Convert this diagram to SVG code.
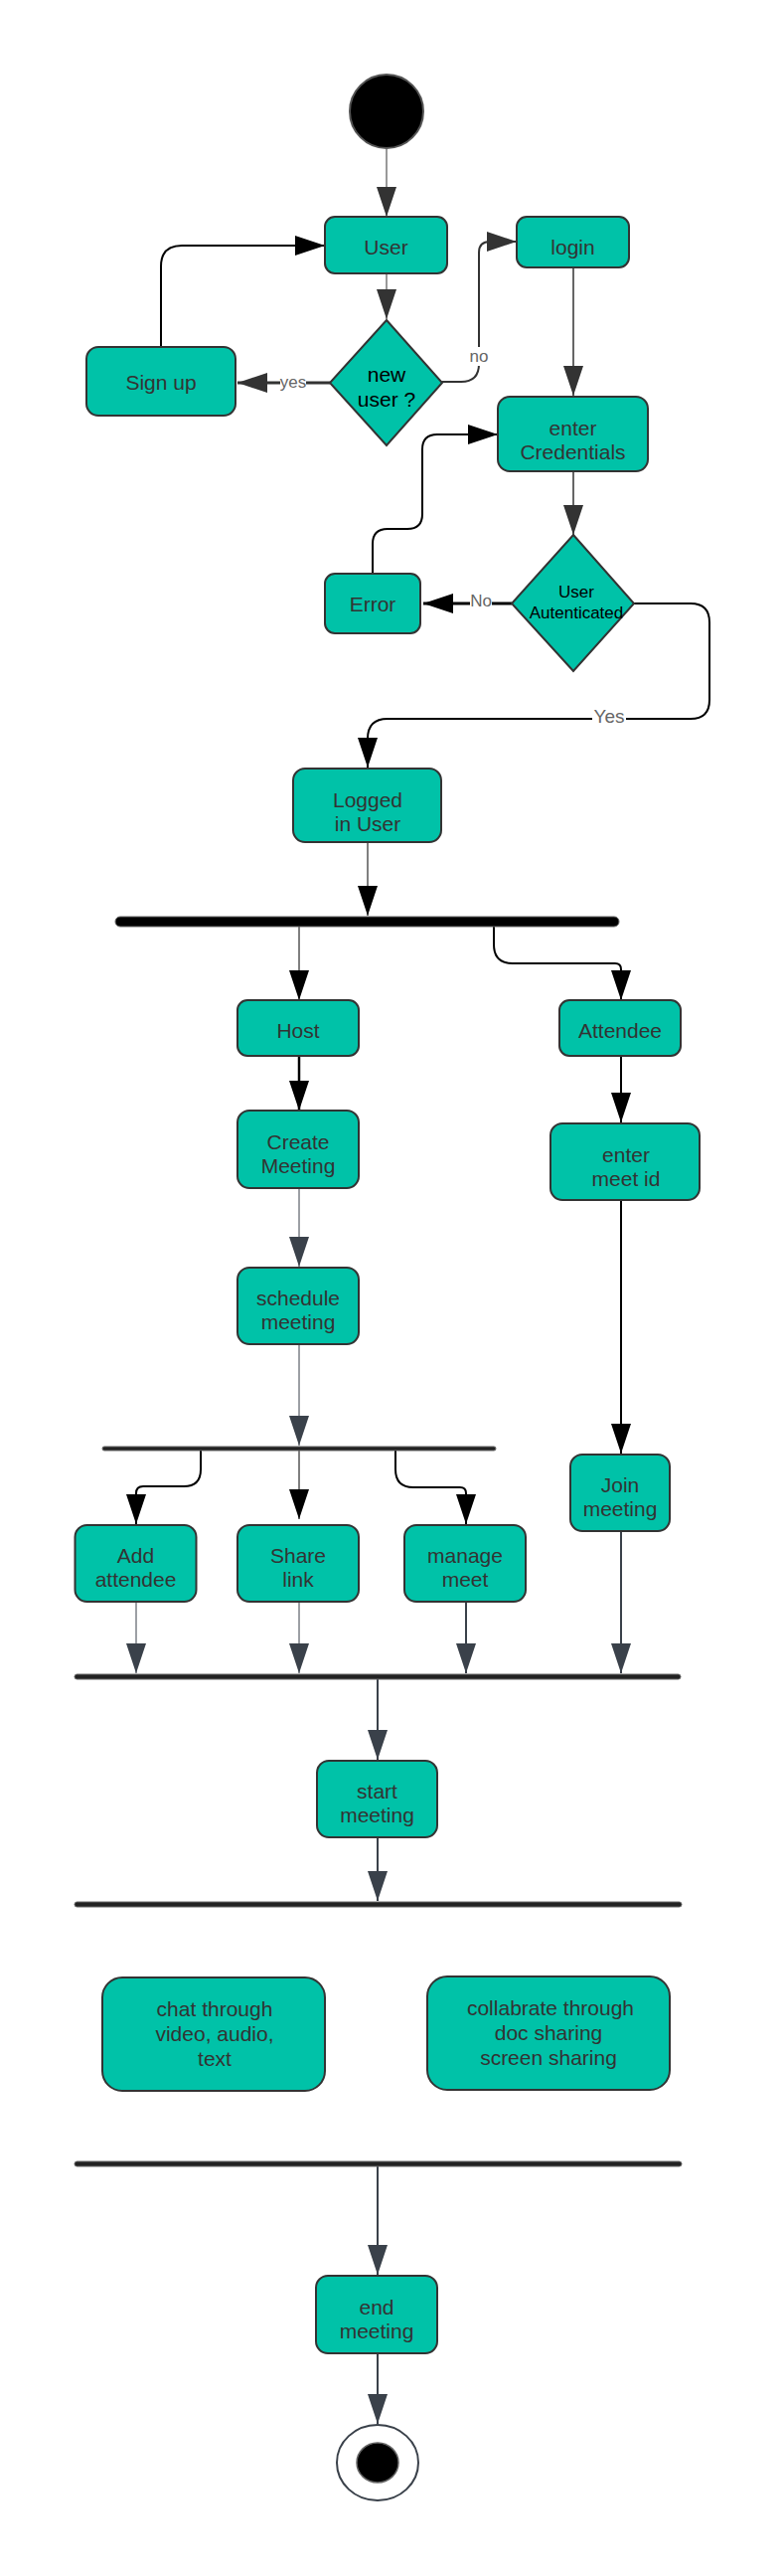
<svg xmlns="http://www.w3.org/2000/svg" width="789" height="2591" viewBox="0 0 789 2591">
<style>
.box{fill:#00C2A8;stroke:#333;stroke-width:2}
.t{font-family:"Liberation Sans",Arial,sans-serif;font-size:21px;fill:#333;text-anchor:middle}
.td{font-family:"Liberation Sans",Arial,sans-serif;fill:#000;text-anchor:middle}
.lbl{font-family:"Liberation Sans",Arial,sans-serif;font-size:17px;fill:#666;text-anchor:middle}
.bar{stroke:#666;stroke-width:1}
.c{fill:none}
.k{stroke:#000}
.g{stroke:#333}
.s{stroke:#3a414a}
</style>
<defs>
<marker id="ak" viewBox="0 0 30 20" refX="30" refY="10" markerWidth="30" markerHeight="20" markerUnits="userSpaceOnUse" orient="auto"><path d="M0,0 L30,10 L0,20 Z" fill="#000"/></marker>
<marker id="ag" viewBox="0 0 30 20" refX="30" refY="10" markerWidth="30" markerHeight="20" markerUnits="userSpaceOnUse" orient="auto"><path d="M0,0 L30,10 L0,20 Z" fill="#333"/></marker>
<marker id="as" viewBox="0 0 30 20" refX="30" refY="10" markerWidth="30" markerHeight="20" markerUnits="userSpaceOnUse" orient="auto"><path d="M0,0 L30,10 L0,20 Z" fill="#3a414a"/></marker>
</defs>
<rect x="0" y="0" width="789" height="2591" fill="#fff"/>

<g id="connectors">
<path class="c g" stroke-width="1" d="M389,150 V218" marker-end="url(#ag)"/>
<path class="c g" stroke-width="1" d="M389,275 V321" marker-end="url(#ag)"/>
<path class="c g" stroke-width="3" d="M332,385 H239" marker-end="url(#ag)"/>
<path class="c g" stroke-width="2" d="M444,384 H464 Q482,384 482,366 V254 Q482,243 493,243 H520" marker-end="url(#ag)"/>
<path class="c g" stroke-width="1.5" d="M577,269 V398" marker-end="url(#ag)"/>
<path class="c k" stroke-width="2" d="M162,349 V268 Q162,247 183,247 H327" marker-end="url(#ak)"/>
<path class="c k" stroke-width="2" d="M375,577 V547 Q375,532 390,532 H410 Q425,532 425,517 V452 Q425,437 440,437 H501" marker-end="url(#ak)"/>
<path class="c g" stroke-width="1.5" d="M577,474 V538" marker-end="url(#ag)"/>
<path class="c k" stroke-width="3" d="M515,607 H426" marker-end="url(#ak)"/>
<path class="c k" stroke-width="2" d="M638,607 H695 Q714,607 714,626 V704 Q714,723 695,723 H390 Q370,723 370,743 V772" marker-end="url(#ak)"/>
<path class="c k" stroke-width="1" d="M370,847 V921" marker-end="url(#ak)"/>
<path class="c k" stroke-width="1" d="M301,932 V1006" marker-end="url(#ak)"/>
<path class="c k" stroke-width="2" d="M497,932 V950 Q497,969 516,969 H619 Q625,969 625,975 V1006" marker-end="url(#ak)"/>
<path class="c k" stroke-width="2.5" d="M301,1062 V1117" marker-end="url(#ak)"/>
<path class="c k" stroke-width="2" d="M625,1062 V1129" marker-end="url(#ak)"/>
<path class="c s" stroke-width="1" d="M301,1195 V1274" marker-end="url(#as)"/>
<path class="c s" stroke-width="1" d="M301,1352 V1454" marker-end="url(#as)"/>
<path class="c k" stroke-width="2" d="M202,1459 V1478 Q202,1495 185,1495 H144 Q137,1495 137,1502 V1533" marker-end="url(#ak)"/>
<path class="c k" stroke-width="1" d="M301,1459 V1528" marker-end="url(#ak)"/>
<path class="c k" stroke-width="2" d="M398,1459 V1478 Q398,1496 416,1496 H463 Q469,1496 469,1502 V1533" marker-end="url(#ak)"/>
<path class="c k" stroke-width="2" d="M625,1207 V1462" marker-end="url(#ak)"/>
<path class="c s" stroke-width="1" d="M137,1611 V1683" marker-end="url(#as)"/>
<path class="c s" stroke-width="1" d="M301,1611 V1683" marker-end="url(#as)"/>
<path class="c s" stroke-width="2" d="M469,1611 V1683" marker-end="url(#as)"/>
<path class="c s" stroke-width="2" d="M625,1540 V1683" marker-end="url(#as)"/>
<path class="c s" stroke-width="2" d="M380,1689 V1770" marker-end="url(#as)"/>
<path class="c s" stroke-width="2" d="M380,1848 V1912" marker-end="url(#as)"/>
<path class="c s" stroke-width="2" d="M380,2179 V2288" marker-end="url(#as)"/>
<path class="c s" stroke-width="2" d="M380,2367 V2438" marker-end="url(#as)"/>
<rect x="282" y="376" width="26" height="17" fill="#fff"/>
<text class="lbl" x="295" y="390">yes</text>
<rect x="471" y="349" width="22" height="19" fill="#fff"/>
<text class="lbl" x="482" y="364">no</text>
<rect x="473" y="596" width="22" height="18" fill="#fff"/>
<text class="lbl" x="484" y="610">No</text>
<rect x="596" y="711" width="34" height="20" fill="#fff"/>
<text class="lbl" x="613" y="727" style="font-size:19px">Yes</text>
</g>

<g id="start"><circle cx="389" cy="112" r="37" fill="#000" stroke="#555" stroke-width="2"/></g>
<g id="user"><rect class="box" x="327" y="218" width="123" height="57" rx="10"/><text class="t" x="388.5" y="256">User</text></g>
<g id="login"><rect class="box" x="520" y="218" width="113" height="51" rx="10"/><text class="t" x="576.5" y="256">login</text></g>
<g id="signup"><rect class="box" x="87" y="349" width="150" height="69" rx="12"/><text class="t" x="162" y="392">Sign up</text></g>
<g id="newuser"><polygon class="box" points="389,322 445,385 389,448 332,385"/><text class="td" style="font-size:21px" x="389" y="384">new</text><text class="td" style="font-size:21px" x="389" y="409">user ?</text></g>
<g id="credentials"><rect class="box" x="501" y="399" width="151" height="75" rx="12"/><text class="t" x="576.5" y="438">enter</text><text class="t" x="576.5" y="462">Credentials</text></g>
<g id="auth"><polygon class="box" points="577,538 638,607 577,675 515,607"/><text class="td" style="font-size:17px" x="580" y="601">User</text><text class="td" style="font-size:17px" x="580" y="622">Autenticated</text></g>
<g id="error"><rect class="box" x="327" y="577" width="96" height="60" rx="10"/><text class="t" x="375" y="615">Error</text></g>
<g id="logged"><rect class="box" x="295" y="773" width="149" height="74" rx="12"/><text class="t" x="370" y="812">Logged</text><text class="t" x="370" y="836">in User</text></g>
<g id="fork1"><rect class="bar" x="116" y="922" width="507" height="10" rx="5" fill="#000"/></g>
<g id="host"><rect class="box" x="239" y="1006" width="122" height="56" rx="10"/><text class="t" x="300" y="1044">Host</text></g>
<g id="attendee"><rect class="box" x="563" y="1006" width="122" height="56" rx="10"/><text class="t" x="624" y="1044">Attendee</text></g>
<g id="create"><rect class="box" x="239" y="1117" width="122" height="78" rx="12"/><text class="t" x="300" y="1156">Create</text><text class="t" x="300" y="1180">Meeting</text></g>
<g id="meetid"><rect class="box" x="554" y="1130" width="150" height="77" rx="12"/><text class="t" x="630" y="1169">enter</text><text class="t" x="630" y="1193">meet id</text></g>
<g id="schedule"><rect class="box" x="239" y="1275" width="122" height="77" rx="12"/><text class="t" x="300" y="1313">schedule</text><text class="t" x="300" y="1337">meeting</text></g>
<g id="fork2"><rect class="bar" x="103" y="1455" width="396" height="4" rx="2" fill="#222"/></g>
<g id="join"><rect class="box" x="574" y="1463" width="100" height="77" rx="12"/><text class="t" x="624" y="1501">Join</text><text class="t" x="624" y="1525">meeting</text></g>
<g id="add"><rect class="box" x="75.5" y="1534" width="122" height="77" rx="12"/><text class="t" x="136.5" y="1572">Add</text><text class="t" x="136.5" y="1596">attendee</text></g>
<g id="share"><rect class="box" x="239" y="1534" width="122" height="77" rx="12"/><text class="t" x="300" y="1572">Share</text><text class="t" x="300" y="1596">link</text></g>
<g id="manage"><rect class="box" x="407" y="1534" width="122" height="77" rx="12"/><text class="t" x="468" y="1572">manage</text><text class="t" x="468" y="1596">meet</text></g>
<g id="join1"><rect class="bar" x="75" y="1684" width="610" height="5" rx="2.5" fill="#222"/></g>
<g id="startmeeting"><rect class="box" x="319" y="1771" width="121" height="77" rx="12"/><text class="t" x="379.5" y="1809">start</text><text class="t" x="379.5" y="1833">meeting</text></g>
<g id="fork3"><rect class="bar" x="75" y="1913" width="611" height="5" rx="2.5" fill="#222"/></g>
<g id="chat"><rect class="box" x="103" y="1989" width="224" height="114" rx="20"/><text class="t" x="216" y="2028">chat through</text><text class="t" x="216" y="2053">video, audio,</text><text class="t" x="216" y="2078">text</text></g>
<g id="collab"><rect class="box" x="430" y="1988" width="244" height="114" rx="20"/><text class="t" x="554" y="2027">collabrate through</text><text class="t" x="552" y="2052">doc sharing</text><text class="t" x="552" y="2077">screen sharing</text></g>
<g id="join2"><rect class="bar" x="75" y="2174" width="611" height="5" rx="2.5" fill="#222"/></g>
<g id="endmeeting"><rect class="box" x="318" y="2289" width="122" height="78" rx="12"/><text class="t" x="379" y="2328">end</text><text class="t" x="379" y="2352">meeting</text></g>
<g id="final"><ellipse cx="380" cy="2477" rx="41" ry="38" fill="#fff" stroke="#3a414a" stroke-width="2"/><ellipse cx="380" cy="2477" rx="21" ry="20" fill="#000" stroke="#666" stroke-width="1.5"/></g>
</svg>
